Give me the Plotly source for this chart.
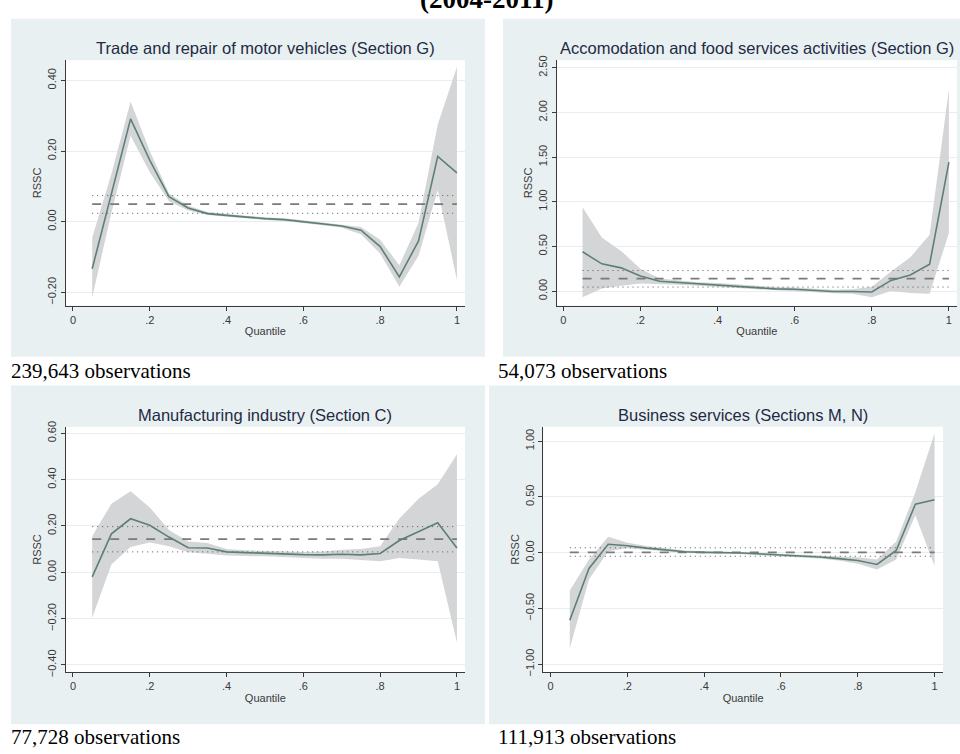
import plotly.graph_objects as go

W, H = 960, 754

quantiles = [0.05, 0.10, 0.15, 0.20, 0.25, 0.30, 0.35, 0.40, 0.45, 0.50,
             0.55, 0.60, 0.65, 0.70, 0.75, 0.80, 0.85, 0.90, 0.95, 1.00]

# Panel 1: Trade and repair of motor vehicles
trade_est = [-0.133, 0.080, 0.291, 0.174, 0.071, 0.039, 0.023, 0.018, 0.013, 0.009,
             0.006, 0.000, -0.006, -0.012, -0.024, -0.070, -0.156, -0.054, 0.185, 0.138]
trade_hi = [-0.045, 0.135, 0.340, 0.200, 0.080, 0.045, 0.028, 0.022, 0.017, 0.013,
            0.010, 0.004, -0.002, -0.007, -0.015, -0.051, -0.123, -0.003, 0.275, 0.438]
trade_lo = [-0.214, 0.025, 0.243, 0.140, 0.058, 0.032, 0.019, 0.014, 0.009, 0.005,
            0.002, -0.004, -0.010, -0.017, -0.035, -0.090, -0.184, -0.096, 0.090, -0.165]

# Panel 2: Accomodation and food services
accom_est = [0.440, 0.305, 0.260, 0.170, 0.110, 0.095, 0.080, 0.070, 0.055, 0.040,
             0.025, 0.020, 0.005, -0.005, -0.005, -0.010, 0.120, 0.180, 0.300, 1.445]
accom_hi = [0.940, 0.600, 0.450, 0.250, 0.140, 0.120, 0.100, 0.090, 0.075, 0.060,
            0.045, 0.040, 0.025, 0.015, 0.020, 0.050, 0.220, 0.380, 0.630, 2.260]
accom_lo = [-0.070, 0.030, 0.060, 0.085, 0.080, 0.070, 0.060, 0.050, 0.035, 0.020,
            0.005, 0.000, -0.015, -0.025, -0.030, -0.070, 0.000, -0.020, -0.030, 0.650]

# Panel 3: Manufacturing industry
manuf_est = [-0.020, 0.166, 0.231, 0.203, 0.152, 0.106, 0.105, 0.088, 0.085, 0.081,
             0.078, 0.076, 0.075, 0.078, 0.075, 0.081, 0.137, 0.175, 0.214, 0.105]
manuf_hi = [0.155, 0.296, 0.350, 0.280, 0.183, 0.133, 0.126, 0.100, 0.095, 0.092,
            0.089, 0.088, 0.090, 0.097, 0.100, 0.112, 0.232, 0.317, 0.380, 0.509]
manuf_lo = [-0.196, 0.034, 0.109, 0.128, 0.112, 0.086, 0.080, 0.072, 0.070, 0.069,
            0.065, 0.062, 0.058, 0.058, 0.052, 0.048, 0.062, 0.055, 0.048, -0.303]

# Panel 4: Business services
busi_est = [-0.606, -0.141, 0.076, 0.062, 0.041, 0.026, 0.009, 0.003, 0.003, -0.003,
            -0.012, -0.020, -0.030, -0.038, -0.053, -0.070, -0.106, 0.020, 0.435, 0.474]
busi_hi = [-0.340, -0.060, 0.144, 0.090, 0.060, 0.040, 0.020, 0.012, 0.012, 0.006,
           -0.002, -0.010, -0.018, -0.025, -0.035, -0.040, -0.062, 0.100, 0.541, 1.070]
busi_lo = [-0.856, -0.240, 0.012, 0.040, 0.025, 0.012, -0.002, -0.006, -0.006, -0.012,
           -0.022, -0.030, -0.042, -0.052, -0.070, -0.100, -0.150, -0.062, 0.335, -0.120]

# mean line and its band, per panel
mean_val = [0.050, 0.140, 0.143, 0.003]
mean_hi = [0.074, 0.230, 0.197, 0.044]
mean_lo = [0.024, 0.045, 0.088, -0.032]

titles = ["Trade and repair of motor vehicles (Section G)",
          "Accomodation and food services activities (Section G)",
          "Manufacturing industry (Section C)",
          "Business services (Sections M, N)"]
obs_labels = ["239,643 observations", "54,073 observations",
              "77,728 observations", "111,913 observations"]
yticks = [[-0.2, 0.0, 0.2, 0.4],
          [0.0, 0.5, 1.0, 1.5, 2.0, 2.5],
          [-0.4, -0.2, 0.0, 0.2, 0.4, 0.6],
          [-1.0, -0.5, 0.0, 0.5, 1.0]]
xtick_vals = [0, 0.2, 0.4, 0.6, 0.8, 1.0]
xtick_text = ["0", ".2", ".4", ".6", ".8", "1"]
main_title = "(2004-2011)"

ests = [trade_est, accom_est, manuf_est, busi_est]
his = [trade_hi, accom_hi, manuf_hi, busi_hi]
los = [trade_lo, accom_lo, manuf_lo, busi_lo]

# layout geometry (pixels)
plot_px = [  # left, right, top, bottom
    (65.7, 465, 55, 304),
    (556.7, 957, 55, 304),
    (65.7, 465, 427, 676),
    (543.3, 943, 427, 676),
]
xranges = [[-0.019, 1.021], [-0.017, 1.021], [-0.019, 1.021], [-0.019, 1.022]]
yranges = [[-0.237, 0.457], [-0.162, 2.585], [-0.431, 0.628], [-1.071, 1.129]]
panel_px = [(11, 485, 13, 356), (503, 960, 13, 356), (11, 485, 385, 729), (489, 960, 385, 729)]
obs_pos = [(11, 370), (498, 370), (11, 742), (498, 742)]

BG = "#E9F0F2"
LINE = "#5D7F78"
BAND = "#D4D5D7"
AX = "#3A3A3A"
TICKC = "#3A3A3A"
FONT = "Liberation Sans, Arial"

fig = go.Figure()
shapes = []
annotations = []

def px2x(p):
    return p / W

def px2y(p):
    return 1 - p / H

for i in range(4):
    pl, pr, pt, pb = panel_px[i]
    shapes.append(dict(type="rect", xref="paper", yref="paper",
                       x0=px2x(pl), x1=px2x(pr), y0=px2y(pb), y1=px2y(pt),
                       fillcolor=BG, line=dict(width=0), layer="below"))
for i in range(4):
    l, r, t, b = plot_px[i]
    shapes.append(dict(type="rect", xref="paper", yref="paper",
                       x0=px2x(l), x1=px2x(r), y0=px2y(b), y1=px2y(t),
                       fillcolor="white", line=dict(width=0), layer="below"))

for i in range(4):
    s = "" if i == 0 else str(i + 1)
    xa, ya = "x" + s, "y" + s
    l, r, t, b = plot_px[i]
    # band
    fig.add_trace(go.Scatter(x=quantiles + quantiles[::-1], y=his[i] + los[i][::-1],
                             fill="toself", fillcolor=BAND, mode="lines",
                             line=dict(width=0), hoverinfo="skip", showlegend=False,
                             xaxis=xa, yaxis=ya))
    # mean line and its CI
    xs = [quantiles[0], quantiles[-1]]
    fig.add_trace(go.Scatter(x=xs, y=[mean_hi[i]] * 2, mode="lines",
                             line=dict(color="#555555", width=1, dash="1px,4px"),
                             showlegend=False, xaxis=xa, yaxis=ya))
    fig.add_trace(go.Scatter(x=xs, y=[mean_lo[i]] * 2, mode="lines",
                             line=dict(color="#555555", width=1, dash="1px,4px"),
                             showlegend=False, xaxis=xa, yaxis=ya))
    fig.add_trace(go.Scatter(x=xs, y=[mean_val[i]] * 2, mode="lines",
                             line=dict(color="#7A7A7A", width=1.6, dash="dash"),
                             showlegend=False, xaxis=xa, yaxis=ya))
    # estimate
    fig.add_trace(go.Scatter(x=quantiles, y=ests[i], mode="lines",
                             line=dict(color=LINE, width=1.6),
                             showlegend=False, xaxis=xa, yaxis=ya))
    xkey = "xaxis" + s
    ykey = "yaxis" + s
    fig.layout[xkey] = dict(domain=[px2x(l), px2x(r)], range=xranges[i], anchor=ya,
                            tickvals=xtick_vals, ticktext=xtick_text,
                            ticks="outside", ticklen=4, tickcolor=AX, showgrid=False,
                            zeroline=False, showline=True, linecolor=AX, linewidth=1,
                            tickfont=dict(family=FONT, size=11, color=TICKC),
                            title=dict(text="Quantile", standoff=2,
                                       font=dict(family=FONT, size=11, color=TICKC)))
    fig.layout[ykey] = dict(domain=[px2y(b), px2y(t)], range=yranges[i], anchor=xa,
                            tickvals=yticks[i], tickformat=".2f", tickangle=-90,
                            ticks="outside", ticklen=4, tickcolor=AX,
                            showgrid=True, gridcolor="#E6EEF1", gridwidth=1,
                            zeroline=False, showline=True, linecolor=AX, linewidth=1,
                            tickfont=dict(family=FONT, size=11, color=TICKC),
                            title=dict(text="RSSC", standoff=2,
                                       font=dict(family=FONT, size=11, color=TICKC)))
    # panel title
    annotations.append(dict(text=titles[i], xref="paper", yref="paper",
                            x=px2x((l + r) / 2), y=px2y(t - 12), xanchor="center", yanchor="middle",
                            showarrow=False,
                            font=dict(family=FONT, size=16.5, color="#1F2A44")))
    # observations text
    ox, oy = obs_pos[i]
    annotations.append(dict(text=obs_labels[i], xref="paper", yref="paper",
                            x=px2x(ox), y=px2y(oy), xanchor="left", yanchor="middle",
                            showarrow=False, xshift=-2,
                            font=dict(family="Liberation Serif, Times New Roman", size=21, color="#000000")))

annotations.append(dict(text="<b>" + main_title + "</b>", xref="paper", yref="paper",
                        x=px2x(486), y=px2y(-7), xanchor="center", yanchor="middle",
                        showarrow=False,
                        font=dict(family="Liberation Serif, Times New Roman", size=27, color="#000000")))

fig.update_layout(width=W, height=H, margin=dict(l=0, r=0, t=0, b=0),
                  paper_bgcolor="white", plot_bgcolor="white",
                  shapes=shapes, annotations=annotations, showlegend=False)

fig.write_html("out.html", config={"displayModeBar": False},
               post_script="document.body.style.margin='0';document.body.style.padding='0';"
                           "document.documentElement.style.overflow='hidden';")
